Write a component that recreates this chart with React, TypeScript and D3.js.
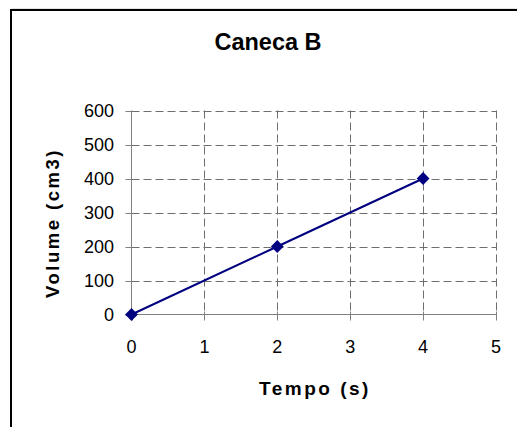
import * as d3 from "d3";

const tempo = [0, 2, 4];
const volume = [0, 200, 400];
const xTicks = [0, 1, 2, 3, 4, 5];
const yTicks = [0, 100, 200, 300, 400, 500, 600];

const W = 517;
const H = 427;
const plot = { left: 131.5, right: 496, top: 110.5, bottom: 314.5 };
const navy = "#000080";
const font = "'Liberation Sans', Arial, sans-serif";

export default function App() {
  const x = d3.scaleLinear().domain([0, 5]).range([plot.left, plot.right]);
  const y = d3.scaleLinear().domain([0, 600]).range([plot.bottom, plot.top]);
  const points = tempo.map((t, i) => ({ t, v: volume[i] }));
  const line = d3.line<{ t: number; v: number }>().x(d => x(d.t)).y(d => y(d.v));
  const diamond = d3.symbol().type(d3.symbolDiamond2).size(105)();

  return (
    <svg width={W} height={H} style={{ position: "absolute", left: 0, top: 0, background: "#fff" }}>
      {/* chart area frame, runs off the right and bottom edges */}
      <line x1={11} x2={W} y1={9} y2={9} stroke="#c8c8c8" />
      <rect x={11} y={10} width={W} height={H} fill="#fff" stroke="#000" strokeWidth={2} />

      {/* grid */}
      {yTicks.slice(1).map(t => (
        <line key={"gy" + t} x1={plot.left} x2={plot.right} y1={Math.round(y(t)) + 0.5} y2={Math.round(y(t)) + 0.5}
          stroke="#6e6e6e" strokeDasharray="8,4" />
      ))}
      {xTicks.slice(1).map(t => (
        <line key={"gx" + t} x1={Math.round(x(t)) + 0.5} x2={Math.round(x(t)) + 0.5} y1={plot.top} y2={plot.bottom}
          stroke="#6e6e6e" strokeDasharray="8,4" />
      ))}

      {/* axes */}
      <line x1={plot.left} x2={plot.left} y1={plot.top} y2={plot.bottom} stroke="#808080" />
      <line x1={plot.left} x2={plot.right} y1={plot.bottom} y2={plot.bottom} stroke="#808080" />
      {yTicks.map(t => (
        <g key={"ty" + t}>
          <line x1={plot.left - 6} x2={plot.left} y1={Math.round(y(t)) + 0.5} y2={Math.round(y(t)) + 0.5} stroke="#808080" />
          <text x={114} y={y(t) + 6.5} textAnchor="end" fontFamily={font} fontSize={18}>{t}</text>
        </g>
      ))}
      {xTicks.map(t => (
        <g key={"tx" + t}>
          <line x1={Math.round(x(t)) + 0.5} x2={Math.round(x(t)) + 0.5} y1={plot.bottom - 3} y2={plot.bottom + 6} stroke="#808080" />
          <text x={x(t)} y={353} textAnchor="middle" fontFamily={font} fontSize={18}>{t}</text>
        </g>
      ))}

      {/* series */}
      <path d={line(points) ?? ""} fill="none" stroke={navy} strokeWidth={2} />
      {points.map((p, i) => (
        <path key={i} d={diamond ?? ""} transform={`translate(${x(p.t)},${y(p.v)})`} fill={navy} />
      ))}

      {/* titles */}
      <text x={268} y={50} textAnchor="middle" fontFamily={font} fontSize={23.5} fontWeight="bold">Caneca B</text>
      <text x={315} y={395} textAnchor="middle" fontFamily={font} fontSize={19} fontWeight="bold" letterSpacing={2.5}>Tempo (s)</text>
      <text transform={`translate(59,223) rotate(-90)`} textAnchor="middle"
        fontFamily={font} fontSize={18.5} fontWeight="bold" letterSpacing={2.5}>Volume (cm3)</text>
    </svg>
  );
}
